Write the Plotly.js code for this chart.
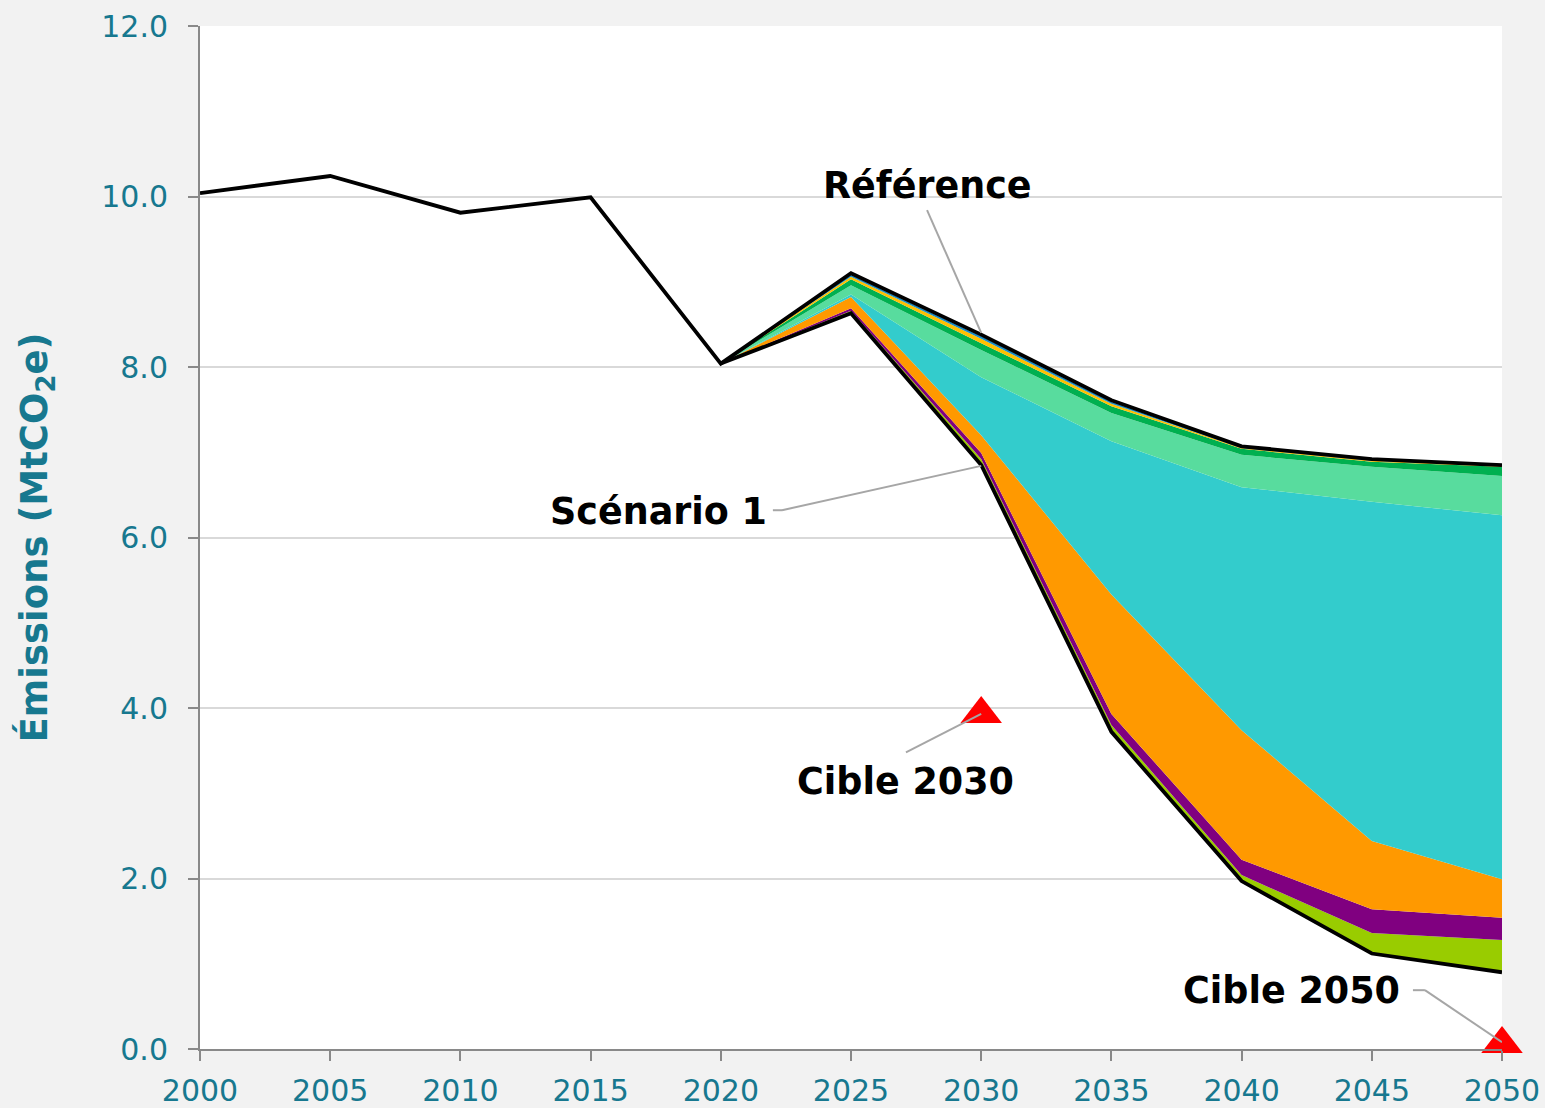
<!DOCTYPE html>
<html><head><meta charset="utf-8">
<script src="https://cdn.plot.ly/plotly-3.0.1.min.js"></script>
<style>html,body{margin:0;padding:0;background:#f2f2f2}</style>
</head><body><div id="chart" style="width:1545px;height:1108px"></div>
<script>
// ---- data ----
const years = [2000, 2005, 2010, 2015, 2020, 2025, 2030, 2035, 2040, 2045, 2050];
const reference = [10.04, 10.24, 9.81, 9.99, 8.04, 9.10, 8.38, 7.61, 7.07, 6.92, 6.85];
const scenarioYears = [2020, 2025, 2030, 2035, 2040, 2045, 2050];
const scenario1 = [8.04, 8.63, 6.85, 3.72, 1.97, 1.12, 0.90];
// reduction wedges stacked on top of Scénario 1 (thickness, MtCO2e)
const wedgeLime   = [0, 0.03, 0.07, 0.08, 0.07, 0.24, 0.38];
const wedgePurple = [0, 0.03, 0.07, 0.13, 0.18, 0.28, 0.26];
const wedgeOrange = [0, 0.13, 0.21, 1.40, 1.52, 0.80, 0.45];
const wedgeTeal   = [0, 0.03, 0.68, 1.80, 2.85, 3.98, 4.27];
const wedgeLightGreen = [0, 0.11, 0.32, 0.33, 0.38, 0.41, 0.46];
const wedgeDarkGreen  = [0, 0.07, 0.08, 0.08, 0.07, 0.06, 0.11];
const wedgeYellow = [0, 0.03, 0.05, 0.03, 0.01, 0.01, 0.01];
const wedgeBlue   = [0, 0.02, 0.03, 0.02, 0.01, 0.01, 0.005];
const targetYears = [2030, 2050];
const targetValues = [3.93, 0.06];
const yTicks = [0, 2, 4, 6, 8, 10, 12];
const yTickLabels = ['0.0', '2.0', '4.0', '6.0', '8.0', '10.0', '12.0'];
const xTicks = [2000, 2005, 2010, 2015, 2020, 2025, 2030, 2035, 2040, 2045, 2050];

// ---- build ----
const wedges = [
  {v: wedgeLime, c: '#99cc00'},
  {v: wedgePurple, c: '#800080'},
  {v: wedgeOrange, c: '#ff9900'},
  {v: wedgeTeal, c: '#33cccc'},
  {v: wedgeLightGreen, c: '#58dc9e'},
  {v: wedgeDarkGreen, c: '#00b050'},
  {v: wedgeYellow, c: '#ffc000'},
  {v: wedgeBlue, c: '#1a8cc4'}
];
const traces = [];
let cum = scenario1.slice();
traces.push({x: scenarioYears, y: cum.slice(), mode: 'lines', line: {width: 0}, hoverinfo: 'skip', showlegend: false});
wedges.forEach(w => {
  cum = cum.map((c, i) => c + w.v[i]);
  traces.push({x: scenarioYears, y: cum.slice(), mode: 'lines', fill: 'tonexty', fillcolor: w.c,
    line: {width: 0, color: w.c}, hoverinfo: 'skip', showlegend: false});
});
traces.push({x: years, y: reference, mode: 'lines', line: {color: '#000000', width: 3.8}, name: 'Référence', showlegend: false});
traces.push({x: scenarioYears, y: scenario1, mode: 'lines', line: {color: '#000000', width: 3.8}, name: 'Scénario 1', showlegend: false});
traces.push({x: targetYears, y: targetValues, mode: 'markers', marker: {symbol: 'triangle-up', size: 36, color: '#ff0000'},
  name: 'Cible', showlegend: false, cliponaxis: false});

const boldFont = {family: 'DejaVu Sans, Verdana, sans-serif', size: 36.5, color: '#000000', weight: 'bold'};
function label(text, x, y) {
  return {text: '<b>' + text + '</b>', x: x, y: y, xref: 'x', yref: 'y', showarrow: false, font: boldFont, xanchor: 'center', yanchor: 'middle'};
}
function leader(x0, y0, x1, y1) {
  return {type: 'line', xref: 'x', yref: 'y', x0: x0, y0: y0, x1: x1, y1: y1, line: {color: '#a6a6a6', width: 2}};
}

const layout = {
  width: 1545, height: 1108,
  paper_bgcolor: '#f2f2f2', plot_bgcolor: '#ffffff',
  margin: {l: 200, r: 43, t: 26, b: 59},
  font: {family: 'DejaVu Sans, Verdana, sans-serif', color: '#17788f'},
  showlegend: false,
  xaxis: {range: [2000, 2050], tickvals: xTicks, ticks: 'outside', ticklen: 10, tickwidth: 2, tickcolor: '#898989',
    showline: true, linecolor: '#898989', linewidth: 2, showgrid: false, zeroline: false,
    tickfont: {size: 30, color: '#17788f'}, ticklabelstandoff: 4},
  yaxis: {range: [0, 12], tickvals: yTicks, ticktext: yTickLabels, ticks: 'outside', ticklen: 10, tickwidth: 2, tickcolor: '#898989',
    showline: true, linecolor: '#898989', linewidth: 2, showgrid: true, gridcolor: '#d9d9d9', gridwidth: 2, zeroline: false,
    tickfont: {size: 30, color: '#17788f'}, ticklabelstandoff: 14,
    title: {text: '<b>Émissions (MtCO<sub>2</sub>e)</b>', font: {size: 37, color: '#17788f'}, standoff: 42}},
  shapes: [
    leader(2027.92, 9.84, 2030, 8.40),
    leader(2022.00, 6.32, 2022.35, 6.32),
    leader(2022.35, 6.32, 2030, 6.84),
    leader(2027.11, 3.48, 2030, 3.93),
    leader(2046.58, 0.69, 2047.04, 0.69),
    leader(2047.04, 0.69, 2050, 0.08)
  ],
  annotations: [
    label('Référence', 2027.92, 10.13),
    label('Scénario 1', 2017.59, 6.31),
    label('Cible 2030', 2027.11, 3.14),
    label('Cible 2050', 2041.90, 0.69)
  ]
};
Plotly.newPlot('chart', traces, layout, {displayModeBar: false, staticPlot: true});
</script></body></html>
